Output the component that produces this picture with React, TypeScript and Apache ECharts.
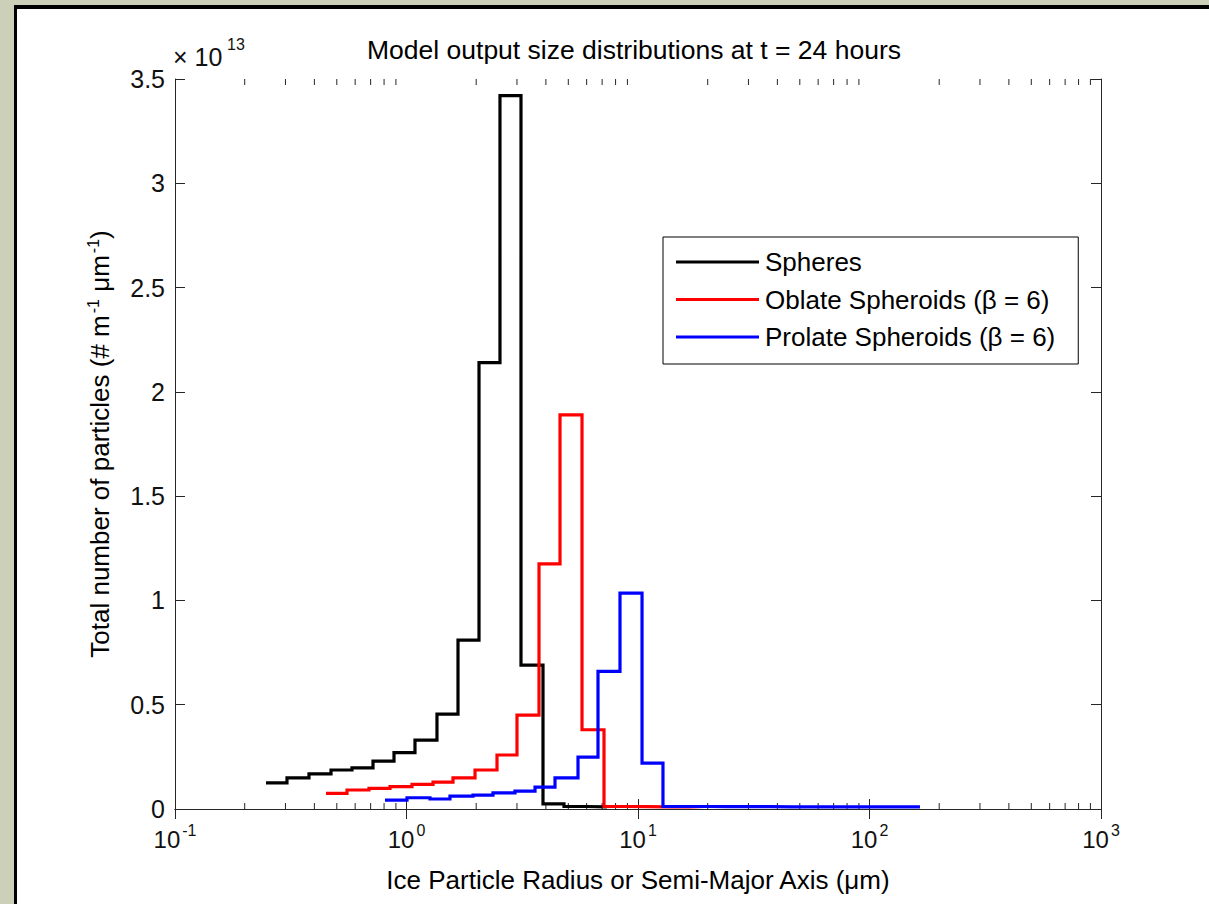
import React, { useEffect, useRef } from "react";
import * as echarts from "echarts";

// Bin edges (µm) and values (×10^13 # m^-1 µm^-1)
const sphereEdges = [0.2472, 0.3046, 0.3791, 0.472, 0.5815, 0.7166, 0.8831, 1.088, 1.354, 1.669, 2.057, 2.534, 3.123, 3.887, 4.79, 5.963, 7.347];
const sphereValues = [0.125, 0.149, 0.168, 0.187, 0.197, 0.23, 0.27, 0.33, 0.455, 0.81, 2.14, 3.42, 0.69, 0.025, 0.012, 0.01];

const oblateEdges = [0.449, 0.5534, 0.6887, 0.8486, 1.056, 1.302, 1.588, 1.977, 2.46, 3.001, 3.736, 4.604, 5.73, 7.131, 8.787, 10.94, 13.48, 16.77, 19.47];
const oblateValues = [0.075, 0.091, 0.099, 0.107, 0.118, 0.129, 0.149, 0.187, 0.259, 0.45, 1.175, 1.89, 0.38, 0.012, 0.011, 0.01, 0.01, 0.012];

const prolateEdges = [0.8074, 1.005, 1.263, 1.541, 1.938, 2.364, 2.942, 3.591, 4.38, 5.506, 6.718, 8.36, 10.41, 12.82, 15.96, 19.67, 24.48, 30.17, 37.54, 46.27, 57.6, 70.96, 88.31, 108.8, 134.1, 165.2];
const prolateValues = [0.043, 0.054, 0.048, 0.062, 0.067, 0.077, 0.086, 0.105, 0.149, 0.249, 0.66, 1.035, 0.22, 0.012, 0.012, 0.011, 0.011, 0.011, 0.01, 0.01, 0.01, 0.01, 0.01, 0.01, 0.01];

const seriesNames = ["Spheres", "Oblate Spheroids (β = 6)", "Prolate Spheroids (β = 6)"];
const seriesColors = ["#000000", "#ff0000", "#0000ff"];

const minorTicks = [0.2, 0.3, 0.4, 0.5, 0.6, 0.7, 0.8, 0.9, 2, 3, 4, 5, 6, 7, 8, 9, 20, 30, 40, 50, 60, 70, 80, 90, 200, 300, 400, 500, 600, 700, 800, 900];

const xMin = 0.1;
const xMax = 1000;
const yMin = 0;
const yMax = 3.5;
const yInterval = 0.5;

const FONT = "'Liberation Sans', Arial, sans-serif";
const AXIS = "#262626";

function stairs(edges: number[], values: number[]) {
  const pts: number[][] = values.map((v, i) => [edges[i], v]);
  pts.push([edges[values.length], values[values.length - 1]]);
  return pts;
}

export default function App() {
  const ref = useRef<HTMLDivElement>(null);
  useEffect(() => {
    if (!ref.current) return;
    const chart = echarts.init(ref.current, null, { renderer: "svg" });
    const sets = [
      [sphereEdges, sphereValues],
      [oblateEdges, oblateValues],
      [prolateEdges, prolateValues],
    ];
    const lineSeries = sets.map(([e, v], i) => ({
      type: "line",
      name: seriesNames[i],
      step: "end",
      data: stairs(e as number[], v as number[]),
      showSymbol: false,
      symbol: "none",
      color: seriesColors[i],
      lineStyle: { color: seriesColors[i], width: 3.2, join: "miter", cap: "butt" },
      z: 4 + i,
    }));
    const xLabel = {
      show: true,
      margin: 13,
      formatter: (v: number) => `{b|10}{s|${Math.round(Math.log10(v))}}`,
      rich: {
        b: { fontFamily: FONT, fontSize: 24, color: "#111", lineHeight: 24, padding: [10, 0, 0, 0] },
        s: { fontFamily: FONT, fontSize: 16, color: "#111", lineHeight: 16, verticalAlign: "top", padding: [0, 0, 0, 2] },
      },
    };
    chart.setOption({
      animation: false,
      backgroundColor: "transparent",
      grid: { left: 175, right: 108, top: 79, bottom: 95, containLabel: false },
      graphic: [
        {
          type: "text",
          x: 634,
          y: 50,
          style: {
            text: "Model output size distributions at t = 24 hours",
            font: `26.5px ${FONT}`,
            fill: "#000",
            align: "center",
            verticalAlign: "middle",
          },
        },
        {
          type: "text",
          x: 173,
          y: 69,
          style: { text: "× 10", font: `25px ${FONT}`, fill: "#111", align: "left", verticalAlign: "bottom" },
        },
        {
          type: "text",
          x: 227,
          y: 36,
          style: { text: "13", font: `16px ${FONT}`, fill: "#111", align: "left", verticalAlign: "top" },
        },
      ],
      legend: {
        orient: "vertical",
        left: 663,
        top: 237,
        data: seriesNames.map((n) => ({ name: n, icon: "rect" })),
        itemWidth: 83,
        itemHeight: 3,
        itemGap: 11.5,
        padding: [12, 23, 14, 13],
        backgroundColor: "#fff",
        borderColor: "#000",
        borderWidth: 1,
        borderRadius: 0,
        selectedMode: false,
        textStyle: { fontFamily: FONT, fontSize: 26, color: "#000", lineHeight: 24, padding: [0, 0, 0, 1] },
      },
      xAxis: [
        {
          type: "log",
          logBase: 10,
          min: xMin,
          max: xMax,
          position: "bottom",
          name: "Ice Particle Radius or Semi-Major Axis (μm)",
          nameLocation: "middle",
          nameGap: 58,
          nameTextStyle: { fontFamily: FONT, fontSize: 26, color: "#000" },
          axisLine: { show: true, lineStyle: { color: AXIS, width: 1 } },
          axisTick: { show: true, inside: true, length: 10, lineStyle: { color: AXIS } },
          axisLabel: xLabel,
          splitLine: { show: false },
          minorTick: { show: false },
        },
        {
          type: "log",
          logBase: 10,
          min: xMin,
          max: xMax,
          position: "top",
          axisLine: { show: true, lineStyle: { color: AXIS, width: 1 } },
          axisTick: { show: true, inside: true, length: 10, lineStyle: { color: AXIS } },
          axisLabel: { show: false },
          splitLine: { show: false },
        },
      ],
      yAxis: [
        {
          type: "value",
          min: yMin,
          max: yMax,
          interval: yInterval,
          position: "left",
          name: "Total number of particles (# m{s|-1} μm{s|-1})",
          nameLocation: "middle",
          nameGap: 60,
          nameRotate: 90,
          nameTextStyle: {
            fontFamily: FONT,
            fontSize: 26,
            color: "#000",
            lineHeight: 30,
            rich: {
              s: { fontFamily: FONT, fontSize: 16, color: "#000", lineHeight: 16, verticalAlign: "top", padding: [0, 0, 0, 2] },
            },
          },
          axisLine: { show: true, lineStyle: { color: AXIS, width: 1 } },
          axisTick: { show: true, inside: true, length: 10, lineStyle: { color: AXIS } },
          axisLabel: { show: true, margin: 10, fontFamily: FONT, fontSize: 25, color: "#111" },
          splitLine: { show: false },
        },
        {
          type: "value",
          min: yMin,
          max: yMax,
          interval: yInterval,
          position: "right",
          axisLine: { show: true, lineStyle: { color: AXIS, width: 1 } },
          axisTick: { show: true, inside: true, length: 10, lineStyle: { color: AXIS } },
          axisLabel: { show: false },
          splitLine: { show: false },
        },
      ],
      series: [
        ...lineSeries,
        {
          type: "custom",
          silent: true,
          clip: false,
          z: 3,
          xAxisIndex: 0,
          yAxisIndex: 0,
          data: minorTicks.map((v) => [v, 0]),
          encode: { x: 0, y: 1 },
          renderItem: (_p: any, api: any) => {
            const v = api.value(0);
            const b = api.coord([v, yMin]);
            const t = api.coord([v, yMax]);
            return {
              type: "group",
              children: [
                { type: "line", shape: { x1: b[0], y1: b[1], x2: b[0], y2: b[1] - 6 }, style: { stroke: AXIS, lineWidth: 1 } },
                { type: "line", shape: { x1: t[0], y1: t[1], x2: t[0], y2: t[1] + 6 }, style: { stroke: AXIS, lineWidth: 1 } },
              ],
            };
          },
        },
      ],
    });
    return () => chart.dispose();
  }, []);

  return (
    <div style={{ position: "fixed", left: 0, top: 0, width: 1209, height: 904, background: "#ccd0b9", overflow: "hidden" }}>
      <div
        style={{
          position: "absolute",
          left: 14,
          top: 5,
          width: 1400,
          height: 1100,
          background: "#ffffff",
          borderLeft: "3px solid #000",
          borderTop: "4px solid #000",
        }}
      />
      <div ref={ref} style={{ position: "absolute", left: 0, top: 0, width: 1209, height: 904 }} />
    </div>
  );
}
